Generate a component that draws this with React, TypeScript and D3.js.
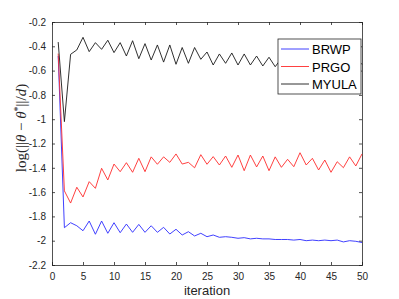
import React, { useEffect, useRef } from 'react';
import * as d3 from 'd3';

const iterations = d3.range(1, 51);

const brwp = [
  -0.48, -1.893, -1.852, -1.877, -1.918, -1.838, -1.947, -1.838, -1.939, -1.852,
  -1.934, -1.863, -1.931, -1.866, -1.931, -1.877, -1.931, -1.89, -1.945, -1.906,
  -1.953, -1.926, -1.961, -1.939, -1.967, -1.953, -1.972, -1.967, -1.972, -1.98,
  -1.975, -1.985, -1.98, -1.985, -1.985, -1.99, -1.99, -1.99, -1.995, -1.99,
  -2.0, -1.995, -2.0, -1.995, -2.0, -1.995, -2.01, -2.0, -2.005, -2.015,
];

const prgo = [
  -0.46, -1.59, -1.69, -1.56, -1.64, -1.514, -1.569, -1.404, -1.5, -1.369,
  -1.432, -1.358, -1.437, -1.322, -1.432, -1.31, -1.371, -1.31, -1.355, -1.286,
  -1.369, -1.355, -1.4, -1.292, -1.371, -1.308, -1.377, -1.303, -1.396, -1.295,
  -1.424, -1.295, -1.393, -1.303, -1.424, -1.31, -1.396, -1.33, -1.391, -1.276,
  -1.377, -1.322, -1.418, -1.336, -1.437, -1.35, -1.399, -1.31, -1.385, -1.286,
];

const myula = [
  -0.365, -1.02, -0.466, -0.43, -0.326, -0.444, -0.37, -0.425, -0.35, -0.452,
  -0.37, -0.48, -0.354, -0.502, -0.378, -0.513, -0.389, -0.53, -0.389, -0.548,
  -0.41, -0.54, -0.41, -0.507, -0.447, -0.554, -0.463, -0.54, -0.455, -0.554,
  -0.463, -0.554, -0.48, -0.562, -0.49, -0.568, -0.5, -0.57, -0.49, -0.56,
  -0.5, -0.57, -0.49, -0.56, -0.51, -0.57, -0.5, -0.56, -0.49, -0.55,
];

const seriesNames = ['BRWP', 'PRGO', 'MYULA'];
const seriesColors = ['#2b2bff', '#ff2b2b', '#1a1a1a'];
const xTicks = [0, 5, 10, 15, 20, 25, 30, 35, 40, 45, 50];
const yTicks = [-2.2, -2, -1.8, -1.6, -1.4, -1.2, -1, -0.8, -0.6, -0.4, -0.2];

const App: React.FC = () => {
  const svgRef = useRef<SVGSVGElement>(null);

  useEffect(() => {
    if (!svgRef.current) return;
    const svg = d3.select(svgRef.current);
    svg.selectAll('*').remove();

    const left = 52, right = 362, top = 22, bottom = 265;
    const axisColor = '#262626';
    const font = '"Liberation Sans", Arial, sans-serif';

    const x = d3.scaleLinear().domain([0, 50]).range([left, right]);
    const y = d3.scaleLinear().domain([-2.2, -0.2]).range([bottom, top]);

    svg.append('rect')
      .attr('x', 0).attr('y', 0).attr('width', 399).attr('height', 299)
      .attr('fill', '#ffffff');

    const fmt = (d: number) => String(Math.round(d * 10) / 10);

    // boxed axes, ticks pointing inward
    const bottomAxis = svg.append('g')
      .attr('transform', `translate(0,${bottom})`)
      .call(d3.axisBottom(x).tickValues(xTicks).tickSize(-3).tickPadding(8).tickFormat(d => fmt(+d)));
    const topAxis = svg.append('g')
      .attr('transform', `translate(0,${top})`)
      .call(d3.axisTop(x).tickValues(xTicks).tickSize(-3).tickFormat(() => ''));
    const leftAxis = svg.append('g')
      .attr('transform', `translate(${left},0)`)
      .call(d3.axisLeft(y).tickValues(yTicks).tickSize(-3).tickPadding(6).tickFormat(d => fmt(+d)));
    const rightAxis = svg.append('g')
      .attr('transform', `translate(${right},0)`)
      .call(d3.axisRight(y).tickValues(yTicks).tickSize(-3).tickFormat(() => ''));

    [bottomAxis, topAxis, leftAxis, rightAxis].forEach(g => {
      g.select('.domain').attr('stroke', axisColor).attr('stroke-width', 0.8);
      g.selectAll('.tick line').attr('stroke', axisColor).attr('stroke-width', 0.8);
      g.selectAll('.tick text')
        .attr('fill', axisColor)
        .style('font-family', font)
        .style('font-size', '10px');
    });

    const line = d3.line<number>()
      .x((_, i) => x(iterations[i]))
      .y(d => y(d));

    [brwp, prgo, myula].forEach((data, i) => {
      svg.append('path')
        .datum(data)
        .attr('fill', 'none')
        .attr('stroke', seriesColors[i])
        .attr('stroke-width', 0.9)
        .attr('d', line);
    });

    // legend
    const legend = svg.append('g').attr('transform', 'translate(278,39)');
    legend.append('rect')
      .attr('x', 0).attr('y', 0).attr('width', 83).attr('height', 55)
      .attr('fill', '#ffffff')
      .attr('stroke', axisColor)
      .attr('stroke-width', 0.8);
    seriesNames.forEach((name, i) => {
      const ly = 10 + i * 17.5;
      legend.append('line')
        .attr('x1', 3).attr('x2', 31).attr('y1', ly).attr('y2', ly)
        .attr('stroke', seriesColors[i])
        .attr('stroke-width', 0.9);
      legend.append('text')
        .attr('x', 34).attr('y', ly + 5)
        .style('font-family', font)
        .style('font-size', '13px')
        .attr('fill', '#000000')
        .text(name);
    });

    svg.append('text')
      .attr('x', (left + right) / 2)
      .attr('y', 295)
      .attr('text-anchor', 'middle')
      .attr('fill', axisColor)
      .style('font-family', font)
      .style('font-size', '13px')
      .text('iteration');

    const ylab = svg.append('text')
      .attr('transform', 'translate(26,128) rotate(-90)')
      .attr('text-anchor', 'middle')
      .attr('fill', axisColor)
      .style('font-family', '"Liberation Serif", "DejaVu Serif", serif')
      .style('font-size', '15px');
    ylab.append('tspan').text('log(||');
    ylab.append('tspan').style('font-style', 'italic').text('θ');
    ylab.append('tspan').text(' − ');
    ylab.append('tspan').style('font-style', 'italic').text('θ');
    ylab.append('tspan').attr('dy', -5).style('font-size', '10px').text('*');
    ylab.append('tspan').attr('dy', 5).text('||/');
    ylab.append('tspan').style('font-style', 'italic').text('d');
    ylab.append('tspan').text(')');
  }, []);

  return (
    <svg
      ref={svgRef}
      width={399}
      height={299}
      style={{ position: 'absolute', left: 0, top: 0, display: 'block' }}
    />
  );
};

export default App;
